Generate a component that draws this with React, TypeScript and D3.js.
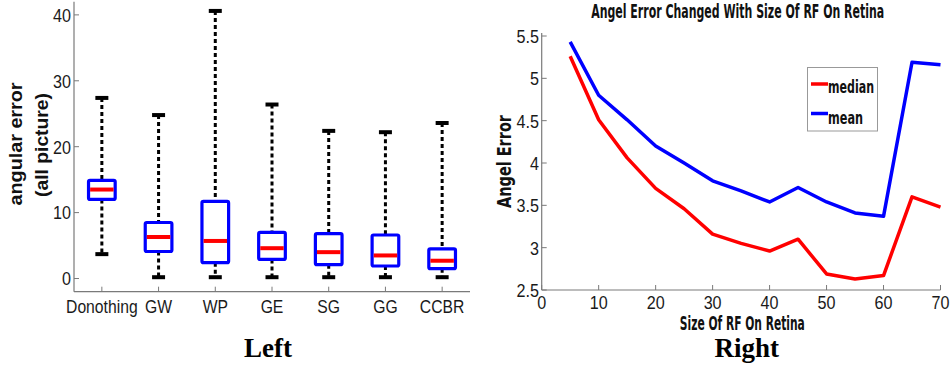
import React from "react";
import * as d3 from "d3";

// ---------- Left chart data (box plot) ----------
const categories = ["Donothing", "GW", "WP", "GE", "SG", "GG", "CCBR"];
const whiskerLow = [3.7, 0.2, 0.2, 0.2, 0.2, 0.2, 0.2];
const q1 = [12.0, 4.1, 2.4, 2.9, 2.1, 1.9, 1.5];
const medians = [13.5, 6.3, 5.7, 4.6, 4.0, 3.5, 2.7];
const q3 = [14.9, 8.5, 11.7, 7.0, 6.8, 6.6, 4.5];
const whiskerHigh = [27.4, 24.8, 40.6, 26.4, 22.4, 22.2, 23.6];
const leftYTicks = [0, 10, 20, 30, 40];

// ---------- Right chart data (lines) ----------
const rfSizes = [5, 10, 15, 20, 25, 30, 35, 40, 45, 50, 55, 60, 65, 70];
const medianErr = [5.26, 4.51, 4.06, 3.70, 3.46, 3.16, 3.05, 2.96, 3.10, 2.69, 2.63, 2.67, 3.60, 3.48];
const meanErr = [5.43, 4.80, 4.51, 4.20, 4.00, 3.79, 3.67, 3.54, 3.71, 3.54, 3.41, 3.37, 5.19, 5.16];
const rightXTicks = [0, 10, 20, 30, 40, 50, 60, 70];
const rightYTicks = [2.5, 3, 3.5, 4, 4.5, 5, 5.5];
const rightYTickLabels = ["2.5", "3", "3.5", "4", "4.5", "5", "5.5"];

const SANS = "'Liberation Sans', Arial, sans-serif";
const COND = "'DejaVu Sans Condensed', 'Liberation Sans', sans-serif";
const AXIS = "#7a7a7a";

function NText(props: {
  x: number;
  y: number;
  anchor?: string;
  size?: number;
  sx?: number;
  children: React.ReactNode;
  dy?: string;
}) {
  const { x, y, anchor = "middle", size = 18, sx = 0.85, children, dy } = props;
  return (
    <g transform={`translate(${x},${y}) scale(${sx},1)`}>
      <text x={0} y={0} dy={dy} textAnchor={anchor} fontFamily={SANS} fontSize={size} fill="#1a1a1a">
        {children}
      </text>
    </g>
  );
}

export default function App() {
  // Left scales
  const lx = d3.scaleBand<string>().domain(categories).range([73.5, 470.5]).padding(0);
  const ly = d3.scaleLinear().domain([-2, 42]).range([291.7, 1.7]);
  const bw = lx.bandwidth() * 0.47;
  const capW = 13;

  // Right scales
  const rx = d3.scaleLinear().domain([0, 70]).range([541.7, 940.5]);
  const ry = d3.scaleLinear().domain([2.5, 5.5]).range([290, 36]);
  const line = d3
    .line<number>()
    .x((_, i) => rx(rfSizes[i]))
    .y((d) => ry(d));

  const titleScale = 0.72;

  return (
    <svg width={950} height={367} style={{ position: "absolute", left: 0, top: 0, background: "#fff" }}>
      <rect x={0} y={0} width={950} height={367} fill="#fff" />
      {/* ================= LEFT ================= */}
      <g>
        <line x1={74} x2={74} y1={ly(42)} y2={ly(-2)} stroke={AXIS} strokeWidth={1.2} />
        <line x1={74} x2={470} y1={ly(-2)} y2={ly(-2)} stroke={AXIS} strokeWidth={1.2} />
        {leftYTicks.map((t) => (
          <g key={"ly" + t}>
            <line x1={74} x2={79} y1={ly(t)} y2={ly(t)} stroke={AXIS} strokeWidth={1} />
            <NText x={71} y={ly(t)} dy="0.36em" anchor="end" size={19}>
              {t}
            </NText>
          </g>
        ))}
        {categories.map((c) => {
          const cx = (lx(c) as number) + lx.bandwidth() / 2;
          return (
            <g key={"lx" + c}>
              <line x1={cx} x2={cx} y1={ly(-2)} y2={ly(-2) - 5} stroke={AXIS} strokeWidth={1} />
              <NText x={cx} y={313} size={18.5}>
                {c}
              </NText>
            </g>
          );
        })}
        {categories.map((c, i) => {
          const cx = (lx(c) as number) + lx.bandwidth() / 2;
          return (
            <g key={"box" + c}>
              <line x1={cx} x2={cx} y1={ly(whiskerHigh[i])} y2={ly(q3[i])}
                stroke="#000" strokeWidth={3} strokeDasharray="4,3" />
              <line x1={cx} x2={cx} y1={ly(q1[i])} y2={ly(whiskerLow[i])}
                stroke="#000" strokeWidth={3} strokeDasharray="4,3" />
              <line x1={cx - capW / 2} x2={cx + capW / 2} y1={ly(whiskerHigh[i])} y2={ly(whiskerHigh[i])}
                stroke="#000" strokeWidth={4} />
              <line x1={cx - capW / 2} x2={cx + capW / 2} y1={ly(whiskerLow[i])} y2={ly(whiskerLow[i])}
                stroke="#000" strokeWidth={4} />
              <rect x={cx - bw / 2} y={ly(q3[i])} width={bw} height={ly(q1[i]) - ly(q3[i])}
                fill="#fff" stroke="#0000ff" strokeWidth={3.2} rx={1.5} />
              <line x1={cx - bw / 2 + 1.6} x2={cx + bw / 2 - 1.6} y1={ly(medians[i])} y2={ly(medians[i])}
                stroke="#ff0000" strokeWidth={4} />
            </g>
          );
        })}
        <text transform="translate(22,144) rotate(-90)" textAnchor="middle" fontFamily={SANS}
          fontWeight="bold" fontSize={19} fill="#111" textLength={123} lengthAdjust="spacingAndGlyphs">
          angular error
        </text>
        <text transform="translate(48,145) rotate(-90)" textAnchor="middle" fontFamily={SANS}
          fontWeight="bold" fontSize={19} fill="#111" textLength={104} lengthAdjust="spacingAndGlyphs">
          (all picture)
        </text>
        <text x={268} y={357} textAnchor="middle" fontFamily="'Liberation Serif', 'Times New Roman', serif"
          fontWeight="bold" fontSize={27} fill="#000">
          Left
        </text>
      </g>

      {/* ================= RIGHT ================= */}
      <g>
        <g transform={`translate(737.7,18) scale(${titleScale},1)`}>
          <text x={0} y={0} textAnchor="middle" fontFamily={COND} fontWeight="bold" fontSize={19}
            fill="#111" textLength={293 / titleScale} lengthAdjust="spacingAndGlyphs">
            Angel Error Changed With Size Of RF On Retina
          </text>
        </g>
        <line x1={rx(0)} x2={rx(0)} y1={ry(5.5) - 3} y2={ry(2.5)} stroke={AXIS} strokeWidth={1.2} />
        <line x1={rx(0)} x2={rx(70)} y1={ry(2.5)} y2={ry(2.5)} stroke={AXIS} strokeWidth={1.2} />
        {rightYTicks.map((t, i) => (
          <g key={"ry" + t}>
            <line x1={rx(0)} x2={rx(0) + 5} y1={ry(t)} y2={ry(t)} stroke={AXIS} strokeWidth={1} />
            <NText x={539} y={ry(t)} dy="0.36em" anchor="end" size={19}>
              {rightYTickLabels[i]}
            </NText>
          </g>
        ))}
        {rightXTicks.map((t) => (
          <g key={"rx" + t}>
            <line x1={rx(t)} x2={rx(t)} y1={ry(2.5)} y2={ry(2.5) - 5} stroke={AXIS} strokeWidth={1} />
            <NText x={rx(t)} y={309} size={19}>
              {t}
            </NText>
          </g>
        ))}
        <path d={line(meanErr) || ""} fill="none" stroke="#0000ff" strokeWidth={3.5} strokeLinejoin="round" />
        <path d={line(medianErr) || ""} fill="none" stroke="#ff0000" strokeWidth={3.5} strokeLinejoin="round" />
        <rect x={807.5} y={67.5} width={70} height={63.5} fill="#fff" stroke="#999" strokeWidth={1} />
        <line x1={811} x2={828} y1={84} y2={84} stroke="#ff0000" strokeWidth={3.5} />
        <line x1={811} x2={828} y1={113.5} y2={113.5} stroke="#0000ff" strokeWidth={3.5} />
        <text x={828} y={93} fontFamily={COND} fontWeight="bold" fontSize={18} fill="#111"
          textLength={46} lengthAdjust="spacingAndGlyphs">
          median
        </text>
        <text x={828} y={124} fontFamily={COND} fontWeight="bold" fontSize={18} fill="#111"
          textLength={35} lengthAdjust="spacingAndGlyphs">
          mean
        </text>
        <text transform="translate(511,161.5) rotate(-90)" textAnchor="middle" fontFamily={COND}
          fontWeight="bold" fontSize={19} fill="#111" textLength={93} lengthAdjust="spacingAndGlyphs">
          Angel Error
        </text>
        <text x={742.3} y={329.5} textAnchor="middle" fontFamily={COND} fontWeight="bold" fontSize={19}
          fill="#111" textLength={125} lengthAdjust="spacingAndGlyphs">
          Size Of RF On Retina
        </text>
        <text x={746.7} y={357} textAnchor="middle" fontFamily="'Liberation Serif', 'Times New Roman', serif"
          fontWeight="bold" fontSize={27} fill="#000">
          Right
        </text>
      </g>
    </svg>
  );
}
